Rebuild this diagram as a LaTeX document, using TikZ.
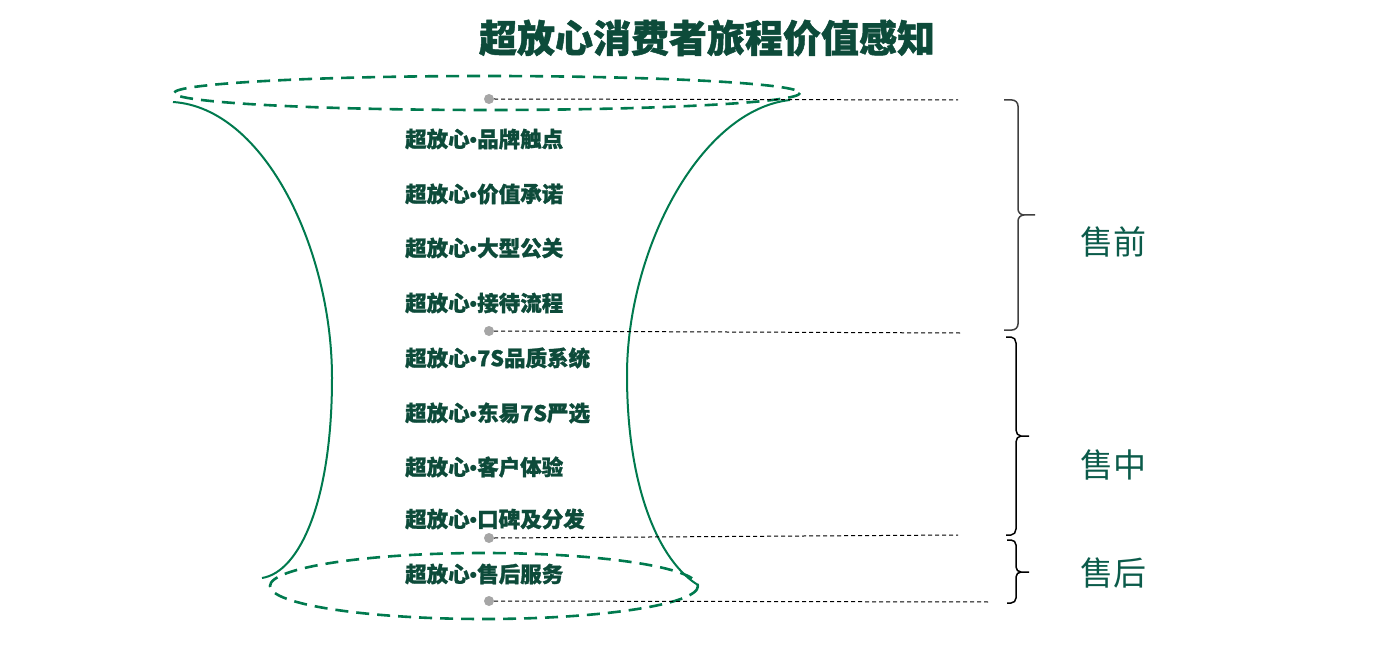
\documentclass[tikz,border=0pt]{standalone}
\usepackage{fontspec}
\newfontfamily\cjk{Noto Sans CJK SC}[BoldFeatures={FakeBold=1.2}]
\newfontfamily\bulfont{Liberation Sans}
\newcommand{\bulsep}{{\bulfont\bfseries •}}
\definecolor{darkg}{HTML}{0D4B3A}
\definecolor{lineg}{HTML}{007A4E}
\definecolor{labg}{HTML}{0B5B4A}
\definecolor{dotg}{HTML}{A6A6A6}
\tikzset{
  item/.style={anchor=west,inner sep=0pt,font=\cjk\bfseries\fontsize{21.5}{21.5}\selectfont,text=darkg},
  ring/.style={draw=lineg,line width=2.6pt,dash pattern=on 13pt off 8pt},
  side/.style={draw=lineg,line width=2pt},
  marker/.style={circle,fill=dotg,inner sep=0pt,minimum size=10pt},
  guide/.style={draw=black,line width=1pt,dash pattern=on 4pt off 3pt},
  phase/.style={font=\cjk\fontsize{33}{33}\selectfont,text=labg,inner sep=0pt},
  bracket/.style={draw=#1,line width=1.5pt,line join=round},
}
\begin{document}
\begin{tikzpicture}[x=1pt,y=-1pt]
\useasboundingbox (0,0) rectangle (1400,655);
% title
\node[font=\cjk\bfseries\fontsize{38}{38}\selectfont,text=darkg,inner sep=0pt] (title) at (707,38) {超放心消费者旅程价值感知};
% side curves
\draw[side] (173,102) .. controls (265,108) and (332,250) .. (332,378) .. controls (332,500) and (300,572) .. (262,578);
\draw[side] (790,100) .. controls (700,110) and (627,250) .. (627,375) .. controls (627,490) and (660,562) .. (698,585);
% ellipses
\draw[ring] (487,93) ellipse [x radius=313, y radius=17];
\draw[ring] (484,586) ellipse [x radius=214, y radius=33];
% items
\node[item] (i1) at (405,139) {超放心\bulsep 品牌触点};
\node[item] (i2) at (405,194) {超放心\bulsep 价值承诺};
\node[item] (i3) at (405,248) {超放心\bulsep 大型公关};
\node[item] (i4) at (405,303) {超放心\bulsep 接待流程};
\node[item] (i5) at (405,358) {超放心\bulsep 7S品质系统};
\node[item] (i6) at (405,413) {超放心\bulsep 东易7S严选};
\node[item] (i7) at (405,467) {超放心\bulsep 客户体验};
\node[item] (i8) at (405,519) {超放心\bulsep 口碑及分发};
\node[item] (i9) at (405,574) {超放心\bulsep 售后服务};
% markers and guide lines
\node[marker] (d1) at (489,99) {};
\node[marker] (d2) at (489,331) {};
\node[marker] (d3) at (489,538) {};
\node[marker] (d4) at (489,601) {};
\coordinate (e1) at (958,100);
\coordinate (e2) at (960,333);
\coordinate (e3) at (958,535);
\coordinate (e4) at (990,602);
\draw[guide] (d1.east) -- (e1);
\draw[guide] (d2.east) -- (e2);
\draw[guide] (d3.east) -- (e3);
\draw[guide] (d4.east) -- (e4);
% brackets
\draw[bracket=black!75] (1004,100) -- (1012,100) to[out=0,in=90] (1018,106) -- (1018,209)
  to[out=-90,in=180] (1024,215) -- (1035,215)
  (1024,215) to[out=180,in=90] (1018,221) -- (1018,324) to[out=-90,in=0] (1012,330) -- (1004,330);
\draw[bracket=black] (1006,337) -- (1011,337) to[out=0,in=90] (1016,343) -- (1016,430)
  to[out=-90,in=180] (1021,436) -- (1029,436)
  (1021,436) to[out=180,in=90] (1016,442) -- (1016,529) to[out=-90,in=0] (1011,535) -- (1006,535);
\draw[bracket=black] (1007,540) -- (1011,540) to[out=0,in=90] (1016,545) -- (1016,567)
  to[out=-90,in=180] (1021,572) -- (1029,572)
  (1021,572) to[out=180,in=90] (1016,577) -- (1016,598) to[out=-90,in=0] (1011,603) -- (1007,603);
% phase labels
\node[phase] (p1) at (1113,242) {售前};
\node[phase] (p2) at (1113,465) {售中};
\node[phase] (p3) at (1113,573) {售后};
\end{tikzpicture}
\end{document}
